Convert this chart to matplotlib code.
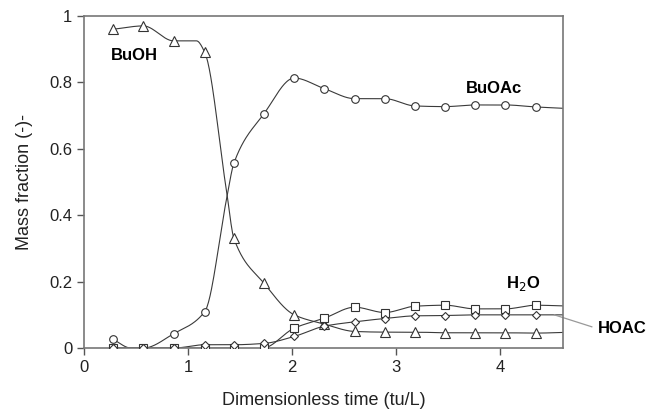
import matplotlib
matplotlib.use("Agg")
import matplotlib.pyplot as plt
import numpy as np

plt.rcParams['font.family'] = ['Liberation Sans', 'DejaVu Sans']

# sampling times (tu/L) where markers are drawn
t = [0.28, 0.57, 0.86, 1.16, 1.44, 1.73, 2.02, 2.31, 2.60, 2.89, 3.18, 3.47, 3.76, 4.05, 4.34]

buoh = [0.96, 0.97, 0.925, 0.89, 0.33, 0.195, 0.10, 0.072, 0.05, 0.048, 0.048, 0.046, 0.046, 0.046, 0.045]
buoac = [0.026, 0.0, 0.043, 0.11, 0.557, 0.706, 0.813, 0.781, 0.751, 0.751, 0.729, 0.727, 0.732, 0.732, 0.726]
h2o = [0.0, 0.0, 0.0, 0.0, 0.0, 0.0, 0.06, 0.09, 0.123, 0.107, 0.126, 0.129, 0.118, 0.118, 0.129]
hoac = [0.0, 0.0, 0.0, 0.01, 0.01, 0.014, 0.035, 0.066, 0.079, 0.089, 0.097, 0.098, 0.1, 0.1, 0.1]

# extra curve knots (no markers)
buoh_knots = ([1.08, 1.37, 4.6], [0.925, 0.47, 0.047])
buoac_knots = ([0.45, 1.37, 4.6], [0.0, 0.45, 0.722])
h2o_knots = ([1.6, 4.6], [-0.004, 0.127])
hoac_knots = ([4.6], [0.1])


def pchip(x, y, xs):
    # monotone cubic (Fritsch-Carlson)
    x = np.asarray(x, float)
    y = np.asarray(y, float)
    h = np.diff(x)
    d = np.diff(y) / h
    m = np.zeros_like(y)
    for k in range(1, len(x) - 1):
        if d[k - 1] * d[k] > 0:
            w1 = 2 * h[k] + h[k - 1]
            w2 = h[k] + 2 * h[k - 1]
            m[k] = (w1 + w2) / (w1 / d[k - 1] + w2 / d[k])
    m[0] = d[0]
    m[-1] = d[-1]
    idx = np.clip(np.searchsorted(x, xs) - 1, 0, len(h) - 1)
    s = (xs - x[idx]) / h[idx]
    h00 = 2 * s**3 - 3 * s**2 + 1
    h10 = s**3 - 2 * s**2 + s
    h01 = -2 * s**3 + 3 * s**2
    h11 = s**3 - s**2
    return h00 * y[idx] + h10 * h[idx] * m[idx] + h01 * y[idx + 1] + h11 * h[idx] * m[idx + 1]


def curve(vals, knots):
    xk = list(t) + list(knots[0])
    yk = list(vals) + list(knots[1])
    order = np.argsort(xk)
    xk = np.array(xk)[order]
    yk = np.array(yk)[order]
    xs = np.linspace(xk[0], xk[-1], 600)
    return xs, pchip(xk, yk, xs)


fig = plt.figure(figsize=(6.52, 4.09), dpi=100)
ax = fig.add_axes([0.129, 0.149, 0.734, 0.812])

line_col = '#3a3a3a'
series = [
    (buoh, buoh_knots, '^', 6.5),
    (buoac, buoac_knots, 'o', 5.5),
    (h2o, h2o_knots, 's', 5.5),
    (hoac, hoac_knots, 'D', 4.5),
]
for vals, knots, mk, ms in series:
    xs, ys = curve(vals, knots)
    ax.plot(xs, ys, color=line_col, lw=0.8, zorder=2)
    ax.plot(t, vals, linestyle='none', marker=mk, ms=ms, mfc='white',
            mec='#333333', mew=0.8, zorder=3)

ax.set_xlim(0, 4.6)
ax.set_ylim(0, 1)
ax.set_xticks([0, 1, 2, 3, 4])
ax.set_xticklabels(['0', '1', '2', '3', '4'])
ax.set_yticks([0, 0.2, 0.4, 0.6, 0.8, 1])
ax.set_yticklabels(['0', '0.2', '0.4', '0.6', '0.8', '1'])
ax.tick_params(direction='out', length=5, width=1, colors='#555555',
               labelcolor='#222222', labelsize=12)
for sp in ax.spines.values():
    sp.set_color('#777777')
    sp.set_linewidth(1.2)

ax.set_xlabel('Dimensionless time (tu/L)', fontsize=13, color='#222222', labelpad=12)
ax.set_ylabel('Mass fraction (-)-', fontsize=13, color='#222222', labelpad=12)

ax.text(0.26, 0.88, 'BuOH', fontsize=12, fontweight='bold', va='center')
ax.text(3.67, 0.782, 'BuOAc', fontsize=12, fontweight='bold', va='center')
ax.text(4.06, 0.195, 'H$_2$O', fontsize=12, fontweight='bold', va='center')
ax.text(4.94, 0.06, 'HOAC', fontsize=12, fontweight='bold', va='center', clip_on=False)
ax.plot([4.52, 4.88], [0.1, 0.064], color='#999999', lw=0.9, clip_on=False)

fig.savefig('out.png', dpi=100)
